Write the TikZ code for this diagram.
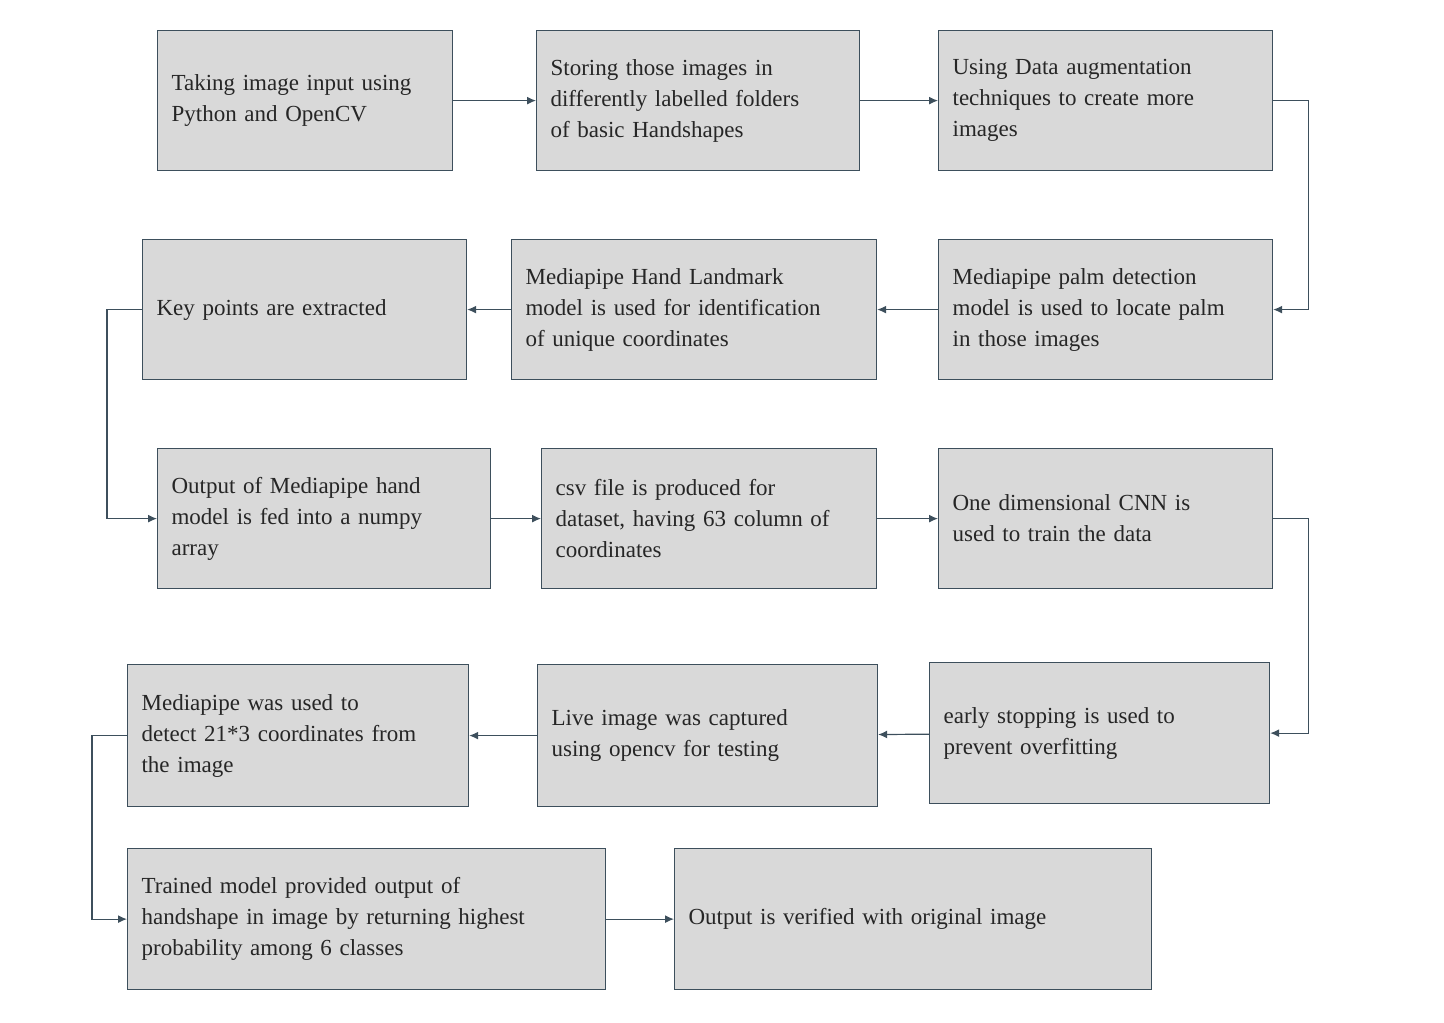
\documentclass[tikz,border=0pt]{standalone}
\usepackage{fontspec}
\setmainfont{Liberation Serif}
\usetikzlibrary{arrows.meta}
\definecolor{boxfill}{HTML}{D9D9D9}
\definecolor{boxline}{HTML}{3D4F5C}
\tikzset{
  stage/.style={draw=boxline, fill=boxfill, line width=1.2pt, align=left, inner sep=0pt,
    font=\fontsize{23}{31}\selectfont, anchor=north west, text=black!85},
  flow/.style={draw=boxline, line width=1.2pt, -{Latex[length=9pt,width=8pt]}}
}
\newcommand{\stagebox}[6]{% name, x1, y1, x2, y2, text
  \node[stage, minimum width={#4-#2}, minimum height={#5-#3}, text width={#4-#2-28}] (#1) at (#2,#3) {#6};
}
\begin{document}
\begin{tikzpicture}[x=1pt,y=-1pt]
  \useasboundingbox (0,0) rectangle (1444,1023);
  \stagebox{input}{157}{30}{452}{170}{Taking image input using\\Python and OpenCV}
  \stagebox{store}{536}{30}{859}{170}{Storing those images in\\differently labelled folders\\of basic Handshapes}
  \stagebox{augment}{938}{30}{1272}{170}{Using Data augmentation\\techniques to create more\\images}
  \stagebox{keypts}{142}{239}{466}{379}{Key points are extracted}
  \stagebox{landmark}{511}{239}{876}{379}{Mediapipe Hand Landmark\\model is used for identification\\of unique coordinates}
  \stagebox{palm}{938}{239}{1272}{379}{Mediapipe palm detection\\model is used to locate palm\\in those images}
  \stagebox{numpy}{157}{448}{490}{588}{Output of Mediapipe hand\\model is fed into a numpy\\array}
  \stagebox{csv}{541}{448}{876}{588}{csv file is produced for\\dataset, having 63 column of\\coordinates}
  \stagebox{cnn}{938}{448}{1272}{588}{One dimensional CNN is\\used to train the data}
  \stagebox{detect}{127}{664}{468}{806}{Mediapipe was used to\\detect 21*3 coordinates from\\the image}
  \stagebox{live}{537}{664}{877}{806}{Live image was captured\\using opencv for testing}
  \stagebox{early}{929}{662}{1269}{803}{early stopping is used to\\prevent overfitting}
  \stagebox{trained}{127}{848}{605}{989}{Trained model provided output of\\handshape in image by returning highest\\probability among 6 classes}
  \stagebox{verify}{674}{848}{1151}{989}{Output is verified with original image}
  % arrows
  \draw[flow] (input) -- (store);
  \draw[flow] (store) -- (augment);
  \draw[flow] (augment.east) -- ++(35,0) |- (palm.east);
  \draw[flow] (palm) -- (landmark);
  \draw[flow] (landmark) -- (keypts);
  \draw[flow] (keypts.west) -- ++(-35,0) |- (numpy.west);
  \draw[flow] (numpy) -- (csv);
  \draw[flow] (csv) -- (cnn);
  \draw[flow] (cnn.east) -- ++(35,0) |- (early.east);
  \draw[flow] (early) -- (live);
  \draw[flow] (live) -- (detect);
  \draw[flow] (detect.west) -- ++(-35,0) |- (trained.west);
  \draw[flow] (trained) -- (verify);
\end{tikzpicture}
\end{document}
